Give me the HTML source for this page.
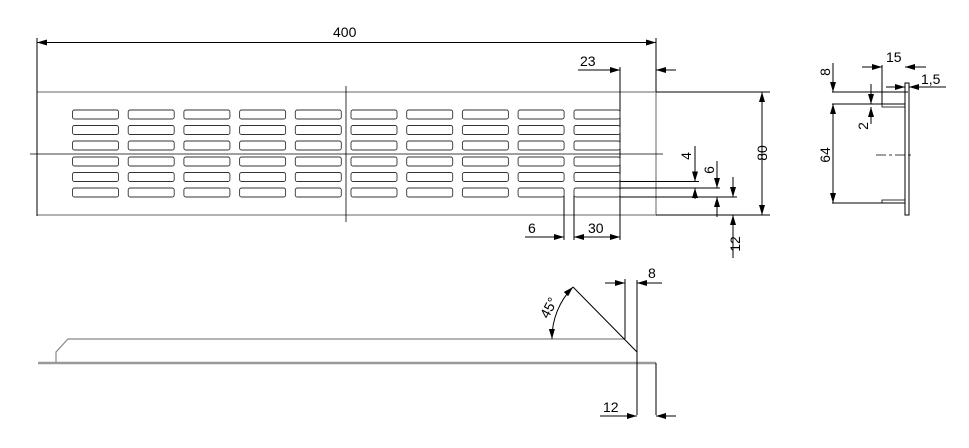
<!DOCTYPE html>
<html><head><meta charset="utf-8"><style>html,body{margin:0;padding:0;background:#fff}svg{display:block}</style></head>
<body>
<svg width="969" height="448" viewBox="0 0 969 448" xmlns="http://www.w3.org/2000/svg" font-family="Liberation Sans, sans-serif" font-size="14" fill="none">
<defs>
<marker id="a" viewBox="0 0 10 6" refX="10" refY="3" markerWidth="10" markerHeight="6" markerUnits="userSpaceOnUse" orient="auto"><path d="M0,0 L10,3 L0,6z" fill="#000"/></marker>
<marker id="b" viewBox="0 0 10 6" refX="0" refY="3" markerWidth="10" markerHeight="6" markerUnits="userSpaceOnUse" orient="auto"><path d="M10,0 L0,3 L10,6z" fill="#000"/></marker>
</defs>
<g stroke="#000" stroke-width="1">
<path d="M37,92 H656 V215 H37" stroke="#999" stroke-width="1.5"/>
<line x1="37" y1="38" x2="37" y2="216"/>
<line x1="656" y1="38" x2="656" y2="92"/>
<line x1="37" y1="42.5" x2="656" y2="42.5" marker-start="url(#b)" marker-end="url(#a)"/>
<line x1="30" y1="154" x2="663" y2="154" stroke-width="0.8"/>
<line x1="346" y1="86" x2="346" y2="222" stroke-width="0.8"/>
<line x1="578" y1="70" x2="620" y2="70" marker-end="url(#a)"/>
<line x1="676" y1="70" x2="656" y2="70" marker-end="url(#a)"/>
<line x1="620" y1="67" x2="620" y2="240"/>
<line x1="656" y1="70" x2="656" y2="92"/>
<line x1="656" y1="92" x2="770" y2="92"/>
<line x1="656" y1="215" x2="770" y2="215"/>
<line x1="762" y1="92" x2="762" y2="215" marker-start="url(#b)" marker-end="url(#a)"/>
<line x1="620" y1="181.5" x2="699" y2="181.5"/>
<line x1="620" y1="188" x2="720" y2="188"/>
<line x1="620" y1="197" x2="737" y2="197"/>
<line x1="695" y1="146" x2="695" y2="181.5" marker-end="url(#a)"/>
<line x1="695" y1="199" x2="695" y2="188" marker-end="url(#a)"/>
<line x1="717" y1="161" x2="717" y2="188" marker-end="url(#a)"/>
<line x1="717" y1="217" x2="717" y2="197" marker-end="url(#a)"/>
<line x1="733" y1="177" x2="733" y2="197" marker-end="url(#a)"/>
<line x1="733" y1="258" x2="733" y2="215" marker-end="url(#a)"/>
<line x1="564" y1="195" x2="564" y2="240"/>
<line x1="574" y1="195" x2="574" y2="240"/>
<line x1="525" y1="237" x2="564" y2="237" marker-end="url(#a)"/>
<line x1="586" y1="237" x2="574" y2="237" marker-end="url(#a)"/>
<line x1="578" y1="237" x2="620" y2="237" marker-end="url(#a)"/>
</g>
<g stroke="#333" stroke-width="0.9">
<g id="col">
<rect x="72.5" y="110" width="46" height="9" rx="2"/>
<rect x="72.5" y="125.5" width="46" height="9" rx="2"/>
<rect x="72.5" y="141" width="46" height="9" rx="2"/>
<rect x="72.5" y="157" width="46" height="9" rx="2"/>
<rect x="72.5" y="172.5" width="46" height="9" rx="2"/>
<rect x="72.5" y="188" width="46" height="9" rx="2"/>
</g>
<use href="#col" x="55.7"/><use href="#col" x="111.4"/><use href="#col" x="167.1"/><use href="#col" x="222.8"/>
<use href="#col" x="278.5"/><use href="#col" x="334.2"/><use href="#col" x="389.9"/><use href="#col" x="445.6"/><use href="#col" x="501.5"/>
</g>
<g stroke="#000" stroke-width="1">
<rect x="905" y="83" width="4" height="132"/>
<line x1="832" y1="92" x2="908" y2="92"/>
<line x1="832" y1="104" x2="905" y2="104"/>
<line x1="832" y1="203" x2="905" y2="203"/>
<rect x="882" y="104" width="23" height="3" stroke-width="0.8"/>
<rect x="882" y="200" width="23" height="3" stroke-width="0.8"/>
<line x1="833" y1="63" x2="833" y2="92" marker-end="url(#a)"/>
<line x1="833" y1="104" x2="833" y2="203" marker-start="url(#b)" marker-end="url(#a)"/>
<line x1="871" y1="84" x2="871" y2="104" marker-end="url(#a)"/>
<line x1="871" y1="124" x2="871" y2="107" marker-end="url(#a)"/>
<line x1="882" y1="65" x2="882" y2="104"/>
<line x1="862" y1="67" x2="882" y2="67" marker-end="url(#a)"/>
<line x1="926" y1="67" x2="905" y2="67" marker-end="url(#a)"/>
<line x1="886" y1="87" x2="905" y2="87" marker-end="url(#a)"/>
<line x1="946" y1="87" x2="909" y2="87" marker-end="url(#a)"/>
<line x1="876" y1="155" x2="912" y2="155" stroke-dasharray="10,3,3,3" stroke-width="0.8"/>
</g>
<g stroke="#000" stroke-width="1">
<path d="M56,363 V352 L68,339 H625" stroke="#888" stroke-width="1.2"/>
<line x1="38" y1="363" x2="656" y2="363" stroke="#999" stroke-width="2.5"/>
<line x1="573" y1="287" x2="637" y2="352"/>
<line x1="625" y1="279" x2="625" y2="339"/>
<line x1="637" y1="280" x2="637" y2="415"/>
<line x1="656" y1="363" x2="656" y2="415"/>
<line x1="605" y1="283" x2="625" y2="283" marker-end="url(#a)"/>
<line x1="662" y1="283" x2="637" y2="283" marker-end="url(#a)"/>
<line x1="600" y1="416" x2="637" y2="416" marker-end="url(#a)"/>
<line x1="676" y1="416" x2="656" y2="416" marker-end="url(#a)"/>
<path d="M552,339 A73,73 0 0 1 573,287" marker-start="url(#b)" marker-end="url(#a)"/>
</g>
<g fill="#000" stroke="none">
<text x="333" y="37">400</text>
<text x="580" y="66">23</text>
<text x="528" y="233">6</text>
<text x="588" y="233">30</text>
<text transform="translate(691,156) rotate(-90)" text-anchor="middle">4</text>
<text transform="translate(714,170) rotate(-90)" text-anchor="middle">6</text>
<text transform="translate(740,244) rotate(-90)" text-anchor="middle">12</text>
<text transform="translate(767,153) rotate(-90)" text-anchor="middle">80</text>
<text x="886" y="62">15</text>
<text x="921" y="84">1,5</text>
<text transform="translate(830,72) rotate(-90)" text-anchor="middle">8</text>
<text transform="translate(830,155) rotate(-90)" text-anchor="middle">64</text>
<text transform="translate(868,126) rotate(-90)" text-anchor="middle">2</text>
<text x="648" y="278">8</text>
<text x="603" y="412">12</text>
<text transform="translate(553,310) rotate(-62)" text-anchor="middle">45°</text>
</g>
</svg>
</body></html>
